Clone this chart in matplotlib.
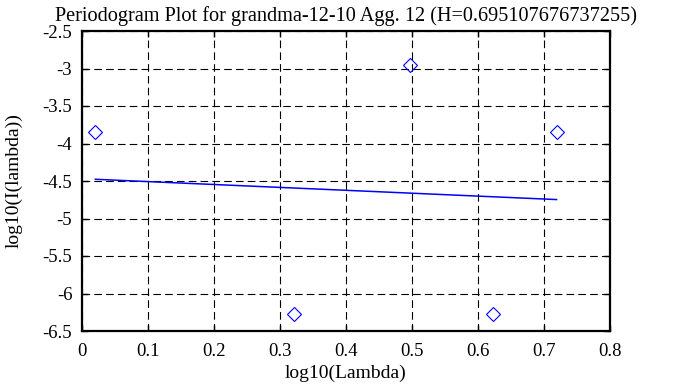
import numpy as np
import matplotlib
matplotlib.use("Agg")
import matplotlib.pyplot as plt

# periodogram points
log_lambda = [0.0202, 0.3212, 0.4971, 0.6221, 0.7190]
log_I = [-3.85, -6.27, -2.95, -6.27, -3.85]
x_ticks = [0, 0.1, 0.2, 0.3, 0.4, 0.5, 0.6, 0.7, 0.8]
y_ticks = [-6.5, -6, -5.5, -5, -4.5, -4, -3.5, -3, -2.5]
title = "Periodogram Plot for grandma-12-10 Agg. 12 (H=0.695107676737255)"

plt.rcParams["font.family"] = ["Liberation Serif", "DejaVu Serif"]
plt.rcParams["lines.scale_dashes"] = False

fig = plt.figure(figsize=(6.73, 3.87), dpi=100)
ax = fig.add_axes([82 / 673, 56 / 387, 528 / 673, 300 / 387])

# least squares fit line
slope, icpt = np.polyfit(log_lambda, log_I, 1)
xfit = np.array([log_lambda[0], log_lambda[-1]])
ax.plot(xfit, slope * xfit + icpt, color="blue", lw=1.1)

ax.plot(log_lambda, log_I, linestyle="none", marker="D", markersize=7,
        markerfacecolor="none", markeredgecolor="blue", markeredgewidth=0.8)

ax.set_xlim(0, 0.8)
ax.set_ylim(-6.5, -2.5)
ax.set_xticks(x_ticks)
ax.set_xticklabels([f"{v:g}" for v in x_ticks])
ax.set_yticks(y_ticks)
ax.set_yticklabels([f"{v:g}" for v in y_ticks])

ax.grid(True, color="black", linestyle=(0, (5.5, 3)), linewidth=0.8)
ax.tick_params(direction="in", top=True, right=True, length=4, width=1,
               labelsize=13.5, pad=7, color="black")
ax.tick_params(axis="x", pad=9)
for s in ax.spines.values():
    s.set_linewidth(1.6)

ax.set_xlabel("log10(Lambda)", fontsize=14, labelpad=3)
ax.set_ylabel("log10(I(lambda))", fontsize=14, labelpad=14)
ax.set_title(title, fontsize=14.6, pad=7)

fig.savefig("out.png", dpi=100)
